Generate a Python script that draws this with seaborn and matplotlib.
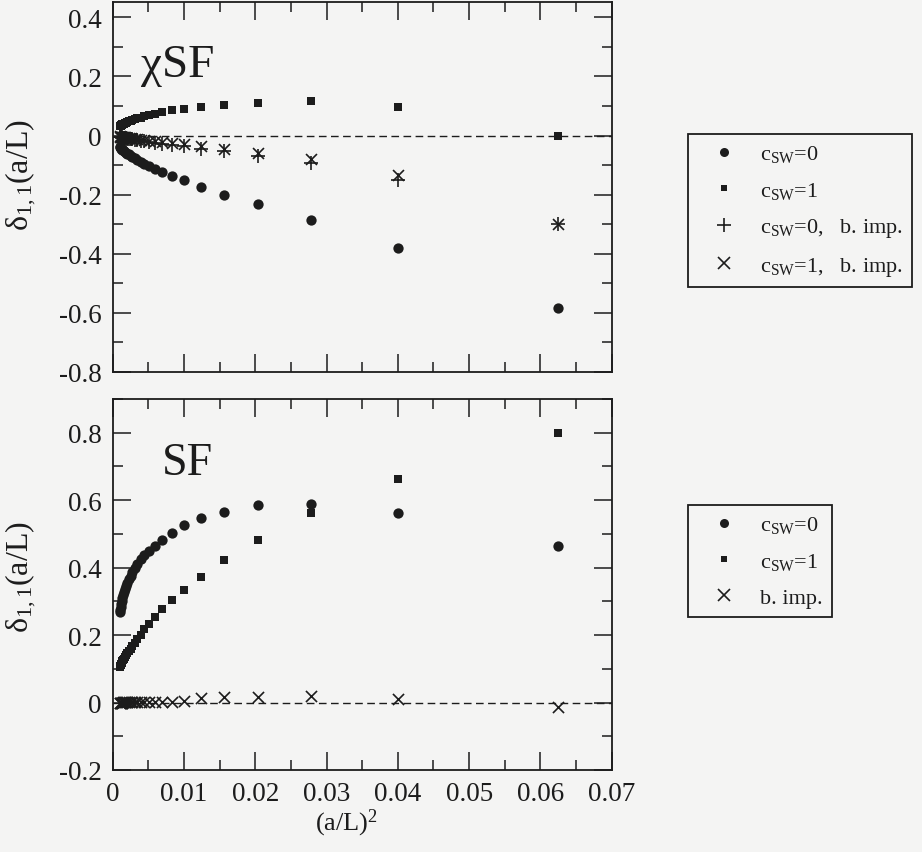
import numpy as np
import pandas as pd
import matplotlib
matplotlib.use("Agg")
import matplotlib.pyplot as plt
from matplotlib.lines import Line2D
from matplotlib.ticker import MultipleLocator, FuncFormatter
import seaborn as sns

# Lattice sizes L/a; abscissa is (a/L)^2
L_sizes = [4, 5, 6, 7, 8, 9, 10, 11, 12, 13, 14, 15, 16, 17, 18, 19, 20,
           21, 22, 23, 24, 25, 26, 27, 28, 29, 30, 31, 32]

# chi SF: delta_{1,1}(a/L)
chi_csw0 = [-0.583, -0.380, -0.287, -0.233, -0.200, -0.175, -0.152, -0.138, -0.124,
            -0.113, -0.104, -0.095, -0.089, -0.082, -0.077, -0.072, -0.068, -0.064,
            -0.061, -0.058, -0.055, -0.052, -0.050, -0.048, -0.046, -0.044, -0.042,
            -0.040, -0.039]
chi_csw1 = [0.000, 0.097, 0.118, 0.109, 0.104, 0.097, 0.091, 0.085, 0.079,
            0.074, 0.069, 0.065, 0.061, 0.058, 0.055, 0.052, 0.050, 0.048,
            0.046, 0.044, 0.042, 0.040, 0.039, 0.038, 0.036, 0.035, 0.034,
            0.033, 0.032]
chi_csw0_imp = [-0.298, -0.149, -0.092, -0.070, -0.053, -0.044, -0.036, -0.031, -0.027,
                -0.024, -0.021, -0.019, -0.017, -0.015, -0.014, -0.013, -0.012, -0.011,
                -0.010, -0.009, -0.008, -0.008, -0.007, -0.007, -0.006, -0.006, -0.005,
                -0.005, -0.005]
chi_csw1_imp = [-0.298, -0.134, -0.079, -0.059, -0.045, -0.036, -0.030, -0.025, -0.022,
                -0.019, -0.017, -0.015, -0.014, -0.012, -0.011, -0.010, -0.009, -0.008,
                -0.008, -0.007, -0.006, -0.006, -0.005, -0.005, -0.005, -0.004, -0.004,
                -0.004, -0.003]

# standard SF: delta_{1,1}(a/L)
sf_csw0 = [0.464, 0.561, 0.590, 0.585, 0.566, 0.548, 0.525, 0.504, 0.481,
           0.463, 0.450, 0.438, 0.425, 0.412, 0.400, 0.388, 0.376, 0.365,
           0.355, 0.345, 0.336, 0.327, 0.318, 0.309, 0.300, 0.291, 0.283,
           0.275, 0.267]
sf_csw1 = [0.800, 0.662, 0.563, 0.481, 0.422, 0.372, 0.333, 0.304, 0.278,
           0.255, 0.234, 0.217, 0.201, 0.188, 0.177, 0.167, 0.160, 0.153,
           0.146, 0.140, 0.135, 0.130, 0.126, 0.122, 0.118, 0.115, 0.112,
           0.109, 0.106]
sf_imp = [-0.012, 0.010, 0.018, 0.015, 0.015, 0.012, 0.005, 0.003, 0.003,
          0.002, 0.002, 0.002, 0.002, 0.001, 0.001, 0.001, 0.001, 0.001,
          0.001, 0.001, 0.001, 0.001, 0.001, 0.000, 0.000, 0.000, 0.000,
          0.000, 0.000]

x_ticks = [0, 0.01, 0.02, 0.03, 0.04, 0.05, 0.06, 0.07]
chi_yticks = [-0.8, -0.6, -0.4, -0.2, 0, 0.2, 0.4]
sf_yticks = [-0.2, 0, 0.2, 0.4, 0.6, 0.8]

lab_c0 = r"c$_{\mathrm{SW}}$=0"
lab_c1 = r"c$_{\mathrm{SW}}$=1"
lab_c0_imp = r"c$_{\mathrm{SW}}$=0,   b. imp."
lab_c1_imp = r"c$_{\mathrm{SW}}$=1,   b. imp."
lab_imp = "b. imp."

x_vals = [1.0 / L**2 for L in L_sizes]
chi_df = pd.DataFrame({"x": x_vals, "c0": chi_csw0, "c1": chi_csw1,
                       "c0i": chi_csw0_imp, "c1i": chi_csw1_imp})
sf_df = pd.DataFrame({"x": x_vals, "c0": sf_csw0, "c1": sf_csw1, "imp": sf_imp})

sns.set_theme(style="ticks")
paper = "#f4f4f3"
ink = "#1c1c1c"
plt.rcParams.update({
    "font.family": ["Liberation Serif", "DejaVu Serif"],
    "mathtext.fontset": "custom",
    "mathtext.rm": "Liberation Serif",
    "mathtext.it": "Liberation Serif:italic",
    "mathtext.bf": "Liberation Serif:bold",
    "axes.unicode_minus": False,
    "text.color": ink,
    "axes.edgecolor": ink,
    "xtick.color": ink,
    "ytick.color": ink,
    "axes.labelcolor": ink,
})

fig = plt.figure(figsize=(9.22, 8.53), dpi=100, facecolor=paper)
W, H = 922.0, 853.0
ax_top = fig.add_axes([112.7 / W, 1 - 373 / H, 499 / W, 370 / H])
ax_bot = fig.add_axes([112.7 / W, 1 - 771 / H, 499 / W, 371 / H])


def fmt(v, pos):
    if abs(v) < 1e-9:
        return "0"
    return f"{v:g}"


def style_axes(ax, yticks, ylim, show_xlabels):
    ax.set_facecolor(paper)
    ax.set_xlim(0, 0.07)
    ax.set_ylim(*ylim)
    ax.set_xticks(x_ticks)
    ax.set_yticks(yticks)
    ax.xaxis.set_minor_locator(MultipleLocator(0.005))
    ax.yaxis.set_minor_locator(MultipleLocator(0.1))
    ax.xaxis.set_major_formatter(FuncFormatter(fmt))
    ax.yaxis.set_major_formatter(FuncFormatter(fmt))
    ax.tick_params(which="both", direction="in", top=True, right=True,
                   width=1.1, labelsize=19.5, colors=ink)
    ax.tick_params(which="major", length=13)
    ax.tick_params(which="minor", length=7)
    ax.tick_params(axis="y", which="major", pad=8)
    ax.tick_params(axis="x", which="major", pad=8, labelbottom=show_xlabels)
    for sp in ax.spines.values():
        sp.set_linewidth(1.3)
        sp.set_color(ink)
    ax.axhline(0, color=ink, lw=1.0, ls=(0, (5.5, 3.2)), zorder=1)
    ax.set_xlabel("")
    ax.set_ylabel(r"$\mathrm{δ}_{1,1}$(a/L)", fontsize=23)


# upper panel: chi SF
sns.scatterplot(data=chi_df, x="x", y="c0", marker="o", s=55, color=ink,
                edgecolor=ink, linewidth=0, ax=ax_top, legend=False, zorder=3)
sns.scatterplot(data=chi_df, x="x", y="c1", marker="s", s=36, color=ink,
                edgecolor=ink, linewidth=0, ax=ax_top, legend=False, zorder=3)
sns.scatterplot(data=chi_df, x="x", y="c0i", marker="+", s=100, color=ink,
                linewidth=1.2, ax=ax_top, legend=False, zorder=3)
sns.scatterplot(data=chi_df, x="x", y="c1i", marker="x", s=62, color=ink,
                linewidth=1.2, ax=ax_top, legend=False, zorder=3)
style_axes(ax_top, chi_yticks, (-0.8, 0.452), False)
ax_top.text(0.057, 0.80, "χSF", transform=ax_top.transAxes, fontsize=34,
            va="baseline", ha="left")

# lower panel: SF
sns.scatterplot(data=sf_df, x="x", y="c0", marker="o", s=55, color=ink,
                edgecolor=ink, linewidth=0, ax=ax_bot, legend=False, zorder=3)
sns.scatterplot(data=sf_df, x="x", y="c1", marker="s", s=36, color=ink,
                edgecolor=ink, linewidth=0, ax=ax_bot, legend=False, zorder=3)
sns.scatterplot(data=sf_df, x="x", y="imp", marker="x", s=64, color=ink,
                linewidth=1.2, ax=ax_bot, legend=False, zorder=3)
style_axes(ax_bot, sf_yticks, (-0.2, 0.9), True)
ax_bot.text(0.098, 0.798, "SF", transform=ax_bot.transAxes, fontsize=33,
            va="baseline", ha="left")
ax_bot.set_xlabel(r"(a/L)$^2$", fontsize=19)
ax_bot.xaxis.set_label_coords((347 - 112.7) / 499, -0.098)

ax_top.yaxis.set_label_coords(-0.15, 0.535)
ax_bot.yaxis.set_label_coords(-0.15, 0.523)


def handle(marker, ms, mew=0.0):
    return Line2D([], [], ls="none", marker=marker, ms=ms, color=ink,
                  mec=ink, mew=mew)


leg_kw = dict(frameon=True, fancybox=False, fontsize=16, handlelength=2.4,
              handletextpad=0.4, borderpad=0.42, labelspacing=0.7,
              borderaxespad=0.0, bbox_transform=fig.transFigure, loc="upper left")

leg_top = ax_top.legend(
    [handle("o", 6.5), handle("s", 4.6), handle("+", 10.5, 1.2), handle("x", 8, 1.2)],
    [lab_c0, lab_c1, lab_c0_imp, lab_c1_imp],
    bbox_to_anchor=(688 / W, 1 - 135 / H), **leg_kw)
leg_bot = ax_bot.legend(
    [handle("o", 6.5), handle("s", 4.6), handle("x", 8, 1.2)],
    [lab_c0, lab_c1, lab_imp],
    bbox_to_anchor=(688 / W, 1 - 506 / H), **leg_kw)
for leg in (leg_top, leg_bot):
    fr = leg.get_frame()
    fr.set_edgecolor(ink)
    fr.set_linewidth(1.3)
    fr.set_facecolor(paper)
    fr.set_alpha(1.0)

fig.savefig("out.png", dpi=100, facecolor=paper)
